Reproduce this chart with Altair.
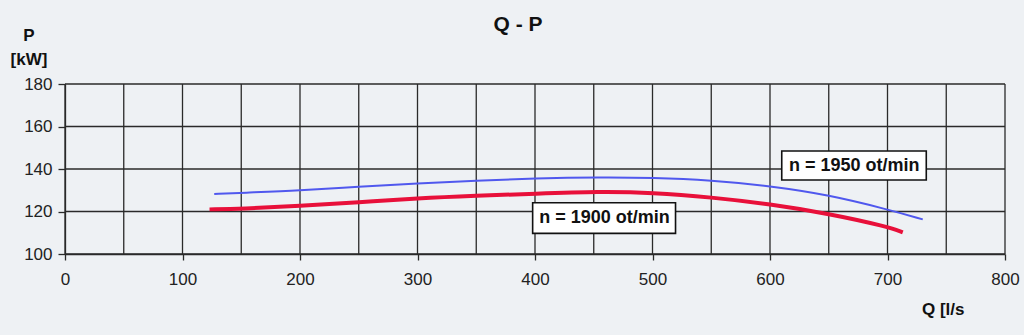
import altair as alt
import pandas as pd

# Curve data
q_1950 = [127, 150, 200, 250, 300, 350, 400, 455, 500, 550, 600, 650, 700, 730]
p_1950 = [128.2, 128.8, 129.8, 131.7, 133.3, 134.5, 135.6, 136.1, 135.9, 134.7, 132.0, 127.8, 121.0, 116.3]
q_1900 = [123, 150, 200, 250, 300, 350, 400, 455, 500, 550, 600, 650, 700, 713]
p_1900 = [121.0, 121.3, 122.6, 124.3, 126.2, 127.4, 128.4, 129.4, 128.9, 126.7, 123.5, 119.0, 112.9, 110.2]

labels = ["n = 1950 ot/min", "n = 1900 ot/min"]
label_q = [671.7, 459.1]
label_p = [141.6, 116.9]
box_q1 = [610.0, 398.0]
box_q2 = [733.0, 519.6]
box_p1 = [148.5, 124.1]
box_p2 = [134.8, 109.7]

x_ticks = [0, 100, 200, 300, 400, 500, 600, 700, 800]
y_ticks = [100, 120, 140, 160, 180]
x_grid = list(range(0, 801, 50))

FONT = "Liberation Sans"
GRID = "#2a2a2a"

xs = alt.Scale(domain=[0, 800], nice=False)
ys = alt.Scale(domain=[100, 180], nice=False)

x_axis = alt.Axis(values=x_ticks, grid=False, domain=True, domainColor=GRID, domainWidth=1.3,
                  tickColor=GRID, tickSize=6, tickWidth=1.3, labelFont=FONT, labelFontSize=17,
                  labelColor="#222", labelPadding=11, labelFlush=False, format="d", title=None)
y_axis = alt.Axis(values=y_ticks, grid=False, domain=True, domainColor=GRID, domainWidth=1.3,
                  tickColor=GRID, tickSize=7, tickWidth=1.3, labelFont=FONT, labelFontSize=17,
                  labelColor="#222", labelPadding=6, labelFlush=False, format="d", title=None)

df_b = pd.DataFrame({"Q": q_1950, "P": p_1950})
df_r = pd.DataFrame({"Q": q_1900, "P": p_1900})
df_lab = pd.DataFrame({"label": labels, "Q": label_q, "P": label_p,
                       "Q1": box_q1, "Q2": box_q2, "P1": box_p1, "P2": box_p2})

vgrid = alt.Chart(pd.DataFrame({"Q": x_grid})).mark_rule(color=GRID, strokeWidth=1.3).encode(
    x=alt.X("Q:Q", scale=xs, axis=x_axis)
)
hgrid = alt.Chart(pd.DataFrame({"P": y_ticks})).mark_rule(color=GRID, strokeWidth=1.3).encode(
    y=alt.Y("P:Q", scale=ys, axis=y_axis)
)

blue = alt.Chart(df_b).mark_line(color="#5058ee", strokeWidth=2, interpolate="basis").encode(
    x=alt.X("Q:Q", scale=xs, axis=x_axis), y=alt.Y("P:Q", scale=ys, axis=y_axis)
)
red = alt.Chart(df_r).mark_line(color="#e8103a", strokeWidth=4, interpolate="basis").encode(
    x=alt.X("Q:Q", scale=xs, axis=x_axis), y=alt.Y("P:Q", scale=ys, axis=y_axis)
)

boxes = alt.Chart(df_lab).mark_rect(fill="white", stroke="#111", strokeWidth=1.6).encode(
    x=alt.X("Q1:Q", scale=xs, axis=x_axis), x2="Q2:Q",
    y=alt.Y("P1:Q", scale=ys, axis=y_axis), y2="P2:Q"
)
texts = alt.Chart(df_lab).mark_text(font=FONT, fontSize=18, fontWeight="bold", color="#111").encode(
    x=alt.X("Q:Q", scale=xs, axis=x_axis), y=alt.Y("P:Q", scale=ys, axis=y_axis), text="label:N"
)

title = alt.Chart(pd.DataFrame({"t": ["Q - P"]})).mark_text(
    font=FONT, fontSize=21, fontWeight="bold", color="#111"
).encode(x=alt.value(453), y=alt.value(-59), text="t:N")
ylab1 = alt.Chart(pd.DataFrame({"t": ["P"]})).mark_text(
    font=FONT, fontSize=17, fontWeight="bold", color="#111"
).encode(x=alt.value(-36), y=alt.value(-48), text="t:N")
ylab2 = alt.Chart(pd.DataFrame({"t": ["[kW]"]})).mark_text(
    font=FONT, fontSize=17, fontWeight="bold", color="#111"
).encode(x=alt.value(-36), y=alt.value(-24), text="t:N")
xlab = alt.Chart(pd.DataFrame({"t": ["Q [l/s"]})).mark_text(
    font=FONT, fontSize=17, fontWeight="bold", color="#111", align="left"
).encode(x=alt.value(857), y=alt.value(226), text="t:N")

chart = alt.layer(vgrid, hgrid, red, blue, boxes, texts, title, ylab1, ylab2, xlab).properties(
    width=940, height=170,
    padding={"left": 65, "top": 84, "right": 19, "bottom": 81},
    autosize=alt.AutoSizeParams(type="none"),
    background="#eef1f4",
).configure_view(stroke=None)

chart.save("out.html", embed_options={"renderer": "svg", "actions": False})
